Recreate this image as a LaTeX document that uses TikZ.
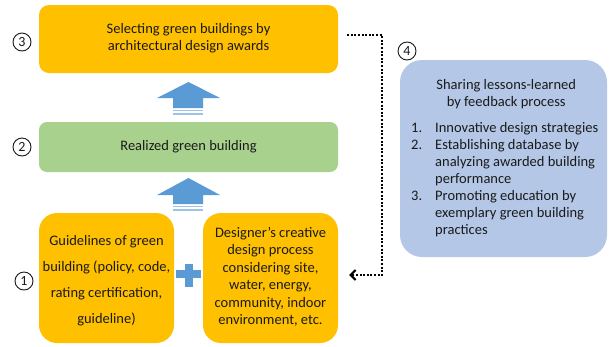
\documentclass[tikz,border=0pt]{standalone}
\usepackage{fontspec}
\setmainfont{Carlito}
\usetikzlibrary{arrows.meta}
\definecolor{boxyellow}{HTML}{FFC000}
\definecolor{boxgreen}{HTML}{A9D18E}
\definecolor{boxblue}{HTML}{B4C7E7}
\definecolor{arrowblue}{HTML}{5B9BD5}
\definecolor{stripeblue}{HTML}{9DC3E6}
\definecolor{txt}{HTML}{1A1A1A}
\begin{document}
\begin{tikzpicture}[x=1pt,y=-1pt,
  every node/.style={text=txt},
  yellowbox/.style={fill=boxyellow,draw=none,rounded corners=#1,inner sep=0pt},
  greenbox/.style={fill=boxgreen,draw=none,rounded corners=8pt,inner sep=0pt},
  bluebox/.style={fill=boxblue,draw=none,rounded corners=22pt,inner sep=0pt},
  numcircle/.style={circle,draw=txt,line width=0.9pt,minimum size=18pt,inner sep=0pt,font=\fontsize{14}{14}\selectfont},
  feedback/.style={line width=2.4pt,dash pattern=on 2pt off 1.6pt,-{Straight Barb[length=5pt,width=10pt,line width=2pt]}},
  blockarrow/.style={fill=arrowblue},
  stripe/.style={fill=stripeblue},
  bodytext/.style={font=\fontsize{14.5}{17}\selectfont,align=center}
]
\useasboundingbox (0,0) rectangle (612,346);
\fill[white] (0,0) rectangle (612,346);

% boxes
\node[yellowbox=10pt,minimum width=299pt,minimum height=68pt] (award) at (188.5,39) {};
\node[bodytext] (awardtxt) at (188.5,38) {Selecting green buildings by\\architectural design awards};

\node[greenbox,minimum width=299pt,minimum height=50pt] (real) at (188.5,147) {};
\node[bodytext] (realtxt) at (188.5,147) {Realized green building};

\node[yellowbox=18pt,minimum width=135pt,minimum height=130pt] (guide) at (106.5,278) {};
\node[font=\fontsize{14.5}{26}\selectfont,align=center] (guidetxt) at (106.5,281) {Guidelines of green\\building (policy, code,\\rating certification,\\guideline)};

\node[yellowbox=18pt,minimum width=135pt,minimum height=130pt] (design) at (270.5,278) {};
\node[font=\fontsize{14.5}{17.5}\selectfont,align=center] (designtxt) at (270.5,277) {Designer’s creative\\design process\\considering site,\\water, energy,\\community, indoor\\environment, etc.};

\node[bluebox,minimum width=207pt,minimum height=197pt] (share) at (503.5,158.5) {};
\node[font=\fontsize{14.5}{17}\selectfont,anchor=north west,inner sep=0pt] (sharetxt) at (411,79) {%
\begin{minipage}{190pt}%
\centering Sharing lessons-learned\\by feedback process\par
\vspace{11pt}\raggedright
\begin{tabular}{@{}p{24pt}@{}l@{}}
1. & Innovative design strategies\\
2. & Establishing database by\\
   & analyzing awarded building\\
   & performance\\
3. & Promoting education by\\
   & exemplary green building\\
   & practices
\end{tabular}%
\end{minipage}};

% numbers
\node[numcircle] (n3) at (22,42) {3};
\node[numcircle] (n2) at (22,147) {2};
\node[numcircle] (n1) at (24,281) {1};
\node[numcircle] (n4) at (407,51) {4};

% block arrows
\fill[blockarrow] (157,98) -- (188.5,82) -- (220,98) -- (203,98) -- (203,108) -- (173,108) -- (173,98) -- cycle;
\fill[stripe] (173,109.5) rectangle (203,111);
\fill[stripe] (173,112.5) rectangle (203,114.5);

\fill[blockarrow] (157,195) -- (188.5,178) -- (220,195) -- (203,195) -- (203,204) -- (173,204) -- (173,195) -- cycle;
\fill[stripe] (173,205.5) rectangle (203,207);
\fill[stripe] (173,208.5) rectangle (203,210.5);

% plus
\fill[arrowblue] (176,269.5) rectangle (201,277.5);
\fill[arrowblue] (184.5,263.5) rectangle (192.5,287);

% feedback connector
\coordinate (turn) at (382,35);
\draw[feedback] ([xshift=9pt,yshift=4pt]award.east) -- (turn) |- ([xshift=11pt,yshift=3pt]design.east);
\end{tikzpicture}
\end{document}
